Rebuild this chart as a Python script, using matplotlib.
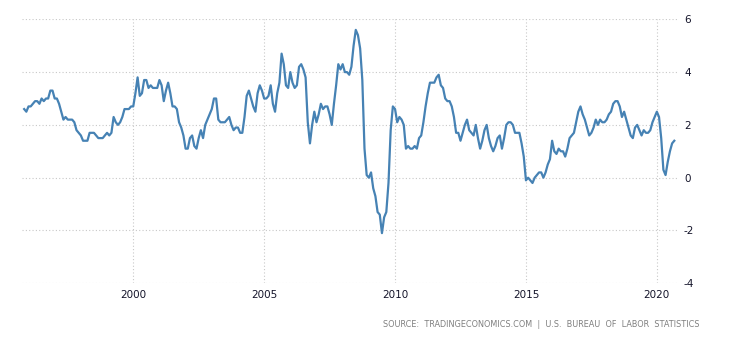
import numpy as np
import pandas as pd
import matplotlib
matplotlib.use('Agg')
import matplotlib.pyplot as plt

plt.rcParams['axes.unicode_minus'] = False

# US CPI inflation, year over year (%), monthly, Nov 1995 - Sep 2020
start = '1995-11'
cpi_1995 = [2.6, 2.5]
cpi_1996 = [2.7, 2.7, 2.8, 2.9, 2.9, 2.8, 3.0, 2.9, 3.0, 3.0, 3.3, 3.3]
cpi_1997 = [3.0, 3.0, 2.8, 2.5, 2.2, 2.3, 2.2, 2.2, 2.2, 2.1, 1.8, 1.7]
cpi_1998 = [1.6, 1.4, 1.4, 1.4, 1.7, 1.7, 1.7, 1.6, 1.5, 1.5, 1.5, 1.6]
cpi_1999 = [1.7, 1.6, 1.7, 2.3, 2.1, 2.0, 2.1, 2.3, 2.6, 2.6, 2.6, 2.7]
cpi_2000 = [2.7, 3.2, 3.8, 3.1, 3.2, 3.7, 3.7, 3.4, 3.5, 3.4, 3.4, 3.4]
cpi_2001 = [3.7, 3.5, 2.9, 3.3, 3.6, 3.2, 2.7, 2.7, 2.6, 2.1, 1.9, 1.6]
cpi_2002 = [1.1, 1.1, 1.5, 1.6, 1.2, 1.1, 1.5, 1.8, 1.5, 2.0, 2.2, 2.4]
cpi_2003 = [2.6, 3.0, 3.0, 2.2, 2.1, 2.1, 2.1, 2.2, 2.3, 2.0, 1.8, 1.9]
cpi_2004 = [1.9, 1.7, 1.7, 2.3, 3.1, 3.3, 3.0, 2.7, 2.5, 3.2, 3.5, 3.3]
cpi_2005 = [3.0, 3.0, 3.1, 3.5, 2.8, 2.5, 3.2, 3.6, 4.7, 4.3, 3.5, 3.4]
cpi_2006 = [4.0, 3.6, 3.4, 3.5, 4.2, 4.3, 4.1, 3.8, 2.1, 1.3, 2.0, 2.5]
cpi_2007 = [2.1, 2.4, 2.8, 2.6, 2.7, 2.7, 2.4, 2.0, 2.8, 3.5, 4.3, 4.1]
cpi_2008 = [4.3, 4.0, 4.0, 3.9, 4.2, 5.0, 5.6, 5.4, 4.9, 3.7, 1.1, 0.1]
cpi_2009 = [0.0, 0.2, -0.4, -0.7, -1.3, -1.4, -2.1, -1.5, -1.3, -0.2, 1.8, 2.7]
cpi_2010 = [2.6, 2.1, 2.3, 2.2, 2.0, 1.1, 1.2, 1.1, 1.1, 1.2, 1.1, 1.5]
cpi_2011 = [1.6, 2.1, 2.7, 3.2, 3.6, 3.6, 3.6, 3.8, 3.9, 3.5, 3.4, 3.0]
cpi_2012 = [2.9, 2.9, 2.7, 2.3, 1.7, 1.7, 1.4, 1.7, 2.0, 2.2, 1.8, 1.7]
cpi_2013 = [1.6, 2.0, 1.5, 1.1, 1.4, 1.8, 2.0, 1.5, 1.2, 1.0, 1.2, 1.5]
cpi_2014 = [1.6, 1.1, 1.5, 2.0, 2.1, 2.1, 2.0, 1.7, 1.7, 1.7, 1.3, 0.8]
cpi_2015 = [-0.1, 0.0, -0.1, -0.2, 0.0, 0.1, 0.2, 0.2, 0.0, 0.2, 0.5, 0.7]
cpi_2016 = [1.4, 1.0, 0.9, 1.1, 1.0, 1.0, 0.8, 1.1, 1.5, 1.6, 1.7, 2.1]
cpi_2017 = [2.5, 2.7, 2.4, 2.2, 1.9, 1.6, 1.7, 1.9, 2.2, 2.0, 2.2, 2.1]
cpi_2018 = [2.1, 2.2, 2.4, 2.5, 2.8, 2.9, 2.9, 2.7, 2.3, 2.5, 2.2, 1.9]
cpi_2019 = [1.6, 1.5, 1.9, 2.0, 1.8, 1.6, 1.8, 1.7, 1.7, 1.8, 2.1, 2.3]
cpi_2020 = [2.5, 2.3, 1.5, 0.3, 0.1, 0.6, 1.0, 1.3, 1.4]

year_ticks = [2000, 2005, 2010, 2015, 2020]
y_ticks = [-4, -2, 0, 2, 4, 6]

values = (cpi_1995 + cpi_1996 + cpi_1997 + cpi_1998 + cpi_1999 + cpi_2000 +
          cpi_2001 + cpi_2002 + cpi_2003 + cpi_2004 + cpi_2005 + cpi_2006 +
          cpi_2007 + cpi_2008 + cpi_2009 + cpi_2010 + cpi_2011 + cpi_2012 +
          cpi_2013 + cpi_2014 + cpi_2015 + cpi_2016 + cpi_2017 + cpi_2018 +
          cpi_2019 + cpi_2020)
dates = pd.period_range(start, periods=len(values), freq='M')
x = dates.year + (dates.month - 1) / 12.0

fig = plt.figure(figsize=(7.3, 3.4), dpi=100)
ax = fig.add_axes([0.0301, 0.1668, 0.8973, 0.7764])

ax.plot(x, values, color='#4682b4', lw=1.6, solid_joinstyle='round')

ax.set_xlim(1995.75, 2020.77)
ax.set_ylim(-4, 6)
ax.set_xticks(year_ticks)
ax.set_xticklabels([str(y) for y in year_ticks])
ax.set_yticks(y_ticks)
ax.yaxis.tick_right()

for s in ax.spines.values():
    s.set_visible(False)
ax.grid(True, color='#c8c8c8', lw=0.8, linestyle=(0, (1, 2)))
ax.tick_params(axis='both', length=0, labelsize=7.5, colors='#14142a')
ax.tick_params(axis='y', pad=5)
ax.tick_params(axis='x', pad=5)

fig.text(0.958, 0.045, 'SOURCE:  TRADINGECONOMICS.COM  |  U.S.  BUREAU  OF  LABOR  STATISTICS',
         ha='right', va='center', fontsize=5.9, color='#7f7f7f')

plt.savefig('out.png', dpi=100)
